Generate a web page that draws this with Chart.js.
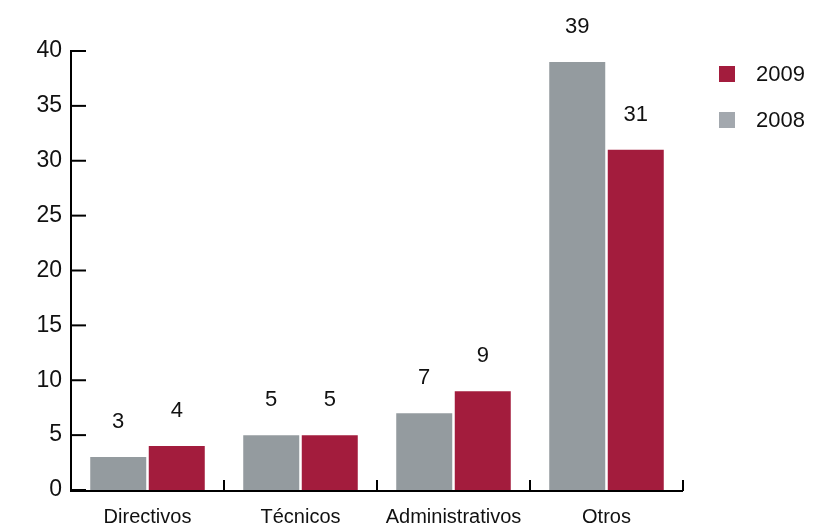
<!DOCTYPE html>
<html><head><meta charset="utf-8">
<script src="https://cdn.jsdelivr.net/npm/chart.js@4/dist/chart.umd.min.js"></script>
<style>html,body{margin:0;padding:0;background:#fff}#wrap{width:814px;height:524px}</style>
</head><body><div id="wrap"><canvas id="c" width="814" height="524"></canvas></div>
<script>
const categories = ["Directivos", "Técnicos", "Administrativos", "Otros"];
const values2008 = [3, 5, 7, 39];
const values2009 = [4, 5, 9, 31];
const yTicks = [0, 5, 10, 15, 20, 25, 30, 35, 40];
const seriesNames = ["2008", "2009"];
const colors = ["#949b9f", "#a31c3d"];
const legendColors = ["#a3a8ae", "#a31c3d"];
const FONT = "'Liberation Sans', Arial, Helvetica, sans-serif";

const decor = {
  id: 'decor',
  afterDatasetsDraw(chart) {
    const ctx = chart.ctx, x = chart.scales.x, y = chart.scales.y, ca = chart.chartArea;
    ctx.save();
    ctx.strokeStyle = '#000'; ctx.lineWidth = 2;
    ctx.beginPath();
    ctx.moveTo(ca.left, y.getPixelForValue(40) - 1); ctx.lineTo(ca.left, ca.bottom + 1);
    ctx.lineTo(ca.right, ca.bottom + 1);
    ctx.stroke();
    yTicks.forEach(v => {
      const py = y.getPixelForValue(v);
      ctx.beginPath(); ctx.moveTo(ca.left, py); ctx.lineTo(ca.left + 15, py); ctx.stroke();
    });
    const step = x.getPixelForValue(1) - x.getPixelForValue(0);
    for (let i = 0; i < categories.length; i++) {
      const px = Math.round(x.getPixelForValue(i) + step / 2);
      ctx.beginPath(); ctx.moveTo(px, ca.bottom + 1); ctx.lineTo(px, ca.bottom - 10); ctx.stroke();
    }
    ctx.fillStyle = '#111';
    ctx.font = '22px ' + FONT;
    ctx.textAlign = 'center'; ctx.textBaseline = 'middle';
    chart.data.datasets.forEach((ds, di) => {
      chart.getDatasetMeta(di).data.forEach((bar, i) => {
        ctx.fillText(String(ds.data[i]), bar.x, bar.y - 35);
      });
    });
    ctx.textAlign = 'left';
    ctx.font = '22px ' + FONT;
    const order = [1, 0];
    order.forEach((di, k) => {
      const ty = y.getPixelForValue(40) + 23 + k * 46;
      ctx.fillStyle = legendColors[di];
      ctx.fillRect(ca.right + 36, ty - 8, 16, 16);
      ctx.fillStyle = '#111';
      ctx.fillText(chart.data.datasets[di].label, ca.right + 73, ty + 1);
    });
    ctx.restore();
  }
};

new Chart(document.getElementById('c'), {
  type: 'bar',
  data: {
    labels: categories,
    datasets: [
      { label: seriesNames[0], data: values2008, backgroundColor: colors[0] },
      { label: seriesNames[1], data: values2009, backgroundColor: colors[1] }
    ]
  },
  options: {
    responsive: false,
    animation: false,
    layout: { padding: { top: 51, right: 131, left: 0, bottom: 0 } },
    datasets: { bar: { categoryPercentage: 0.765, barPercentage: 0.957 } },
    plugins: { legend: { display: false }, tooltip: { enabled: false } },
    scales: {
      x: {
        grid: { display: false, drawTicks: false },
        border: { display: false },
        ticks: { color: '#111', font: { family: FONT, size: 20 }, padding: 15 },
        afterFit(s) { s.height = 34; }
      },
      y: {
        min: 0, max: 40,
        afterBuildTicks(s) { s.ticks = yTicks.map(v => ({ value: v })); },
        grid: { display: false, drawTicks: false },
        border: { display: false },
        ticks: { color: '#111', font: { family: FONT, size: 23 }, padding: 9 },
        afterFit(s) { s.width = 71; }
      }
    }
  },
  plugins: [decor]
});
</script></body></html>
